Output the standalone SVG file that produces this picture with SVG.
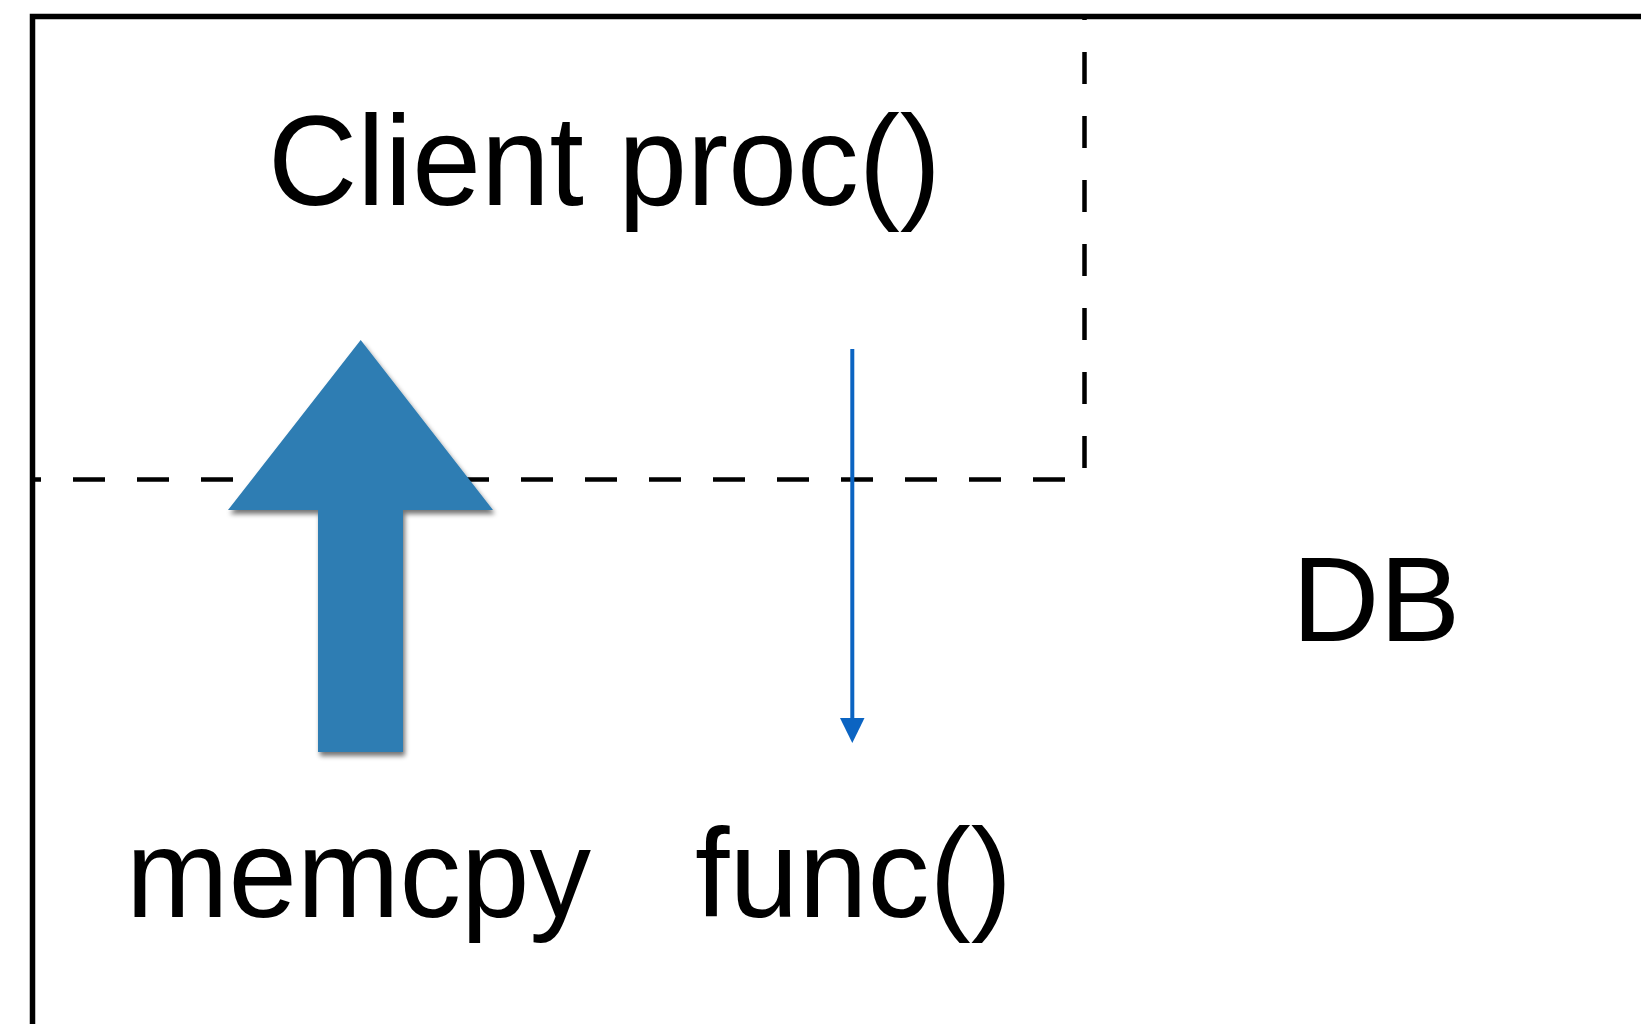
<svg xmlns="http://www.w3.org/2000/svg" width="1641" height="1024" viewBox="0 0 1641 1024">
  <defs>
    <filter id="drop" x="-20%" y="-20%" width="140%" height="140%">
      <feGaussianBlur in="SourceAlpha" stdDeviation="2.5"/>
      <feOffset dx="2" dy="4" result="b"/>
      <feComponentTransfer><feFuncA type="linear" slope="0.55"/></feComponentTransfer>
      <feMerge><feMergeNode/><feMergeNode in="SourceGraphic"/></feMerge>
    </filter>
  </defs>
  <style>
    .frame { fill: none; stroke: #000; stroke-width: 5.5; }
    .dash { fill: none; stroke: #000; stroke-width: 4.5; stroke-dasharray: 32 32; }
    .label { font-family: "Liberation Sans", Arial, sans-serif; fill: #000; }
  </style>
  <rect width="1641" height="1024" fill="#fff"/>

  <!-- outer boundary and region split -->
  <g id="regions">
    <path class="frame" d="M32.5,1024 V16.5 H1641"/>
    <path class="dash" d="M1084.5,468 V16"/>
    <path class="dash" d="M1065,479.5 H31"/>
  </g>

  <g id="client">
    <text class="label" x="268" y="205" font-size="128" textLength="673" lengthAdjust="spacingAndGlyphs">Client proc()</text>
  </g>
  <g id="db">
    <text class="label" x="1292" y="641" font-size="121">DB</text>
  </g>
  <g id="memcpy">
    <text class="label" x="126" y="917" font-size="126" textLength="465" lengthAdjust="spacingAndGlyphs">memcpy</text>
  </g>
  <g id="func">
    <text class="label" x="695" y="917" font-size="126" textLength="317" lengthAdjust="spacingAndGlyphs">func()</text>
  </g>

  <g id="connectors">
    <!-- wide copy arrow -->
    <polygon filter="url(#drop)" fill="#2f7db3" points="360.7,340 493,510 403,510 403,752 318,752 318,510 228,510"/>
    <!-- call arrow -->
    <line x1="852.3" y1="349" x2="852.3" y2="720" stroke="#0b64c2" stroke-width="4"/>
    <polygon fill="#0b64c2" points="840,718 864.5,718 852.3,743"/>
  </g>
</svg>
